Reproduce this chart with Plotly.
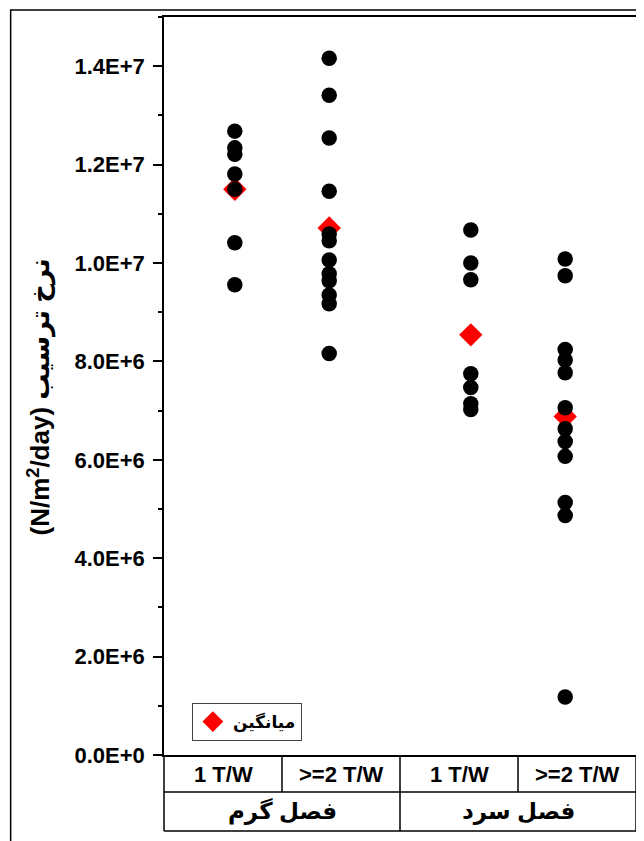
import plotly.graph_objects as go

# ---- data ----
groups = ["فصل گرم", "فصل سرد"]
subcats = ["1 T/W", ">=2 T/W"]

warm_1tw = [12.68e6, 12.34e6, 12.21e6, 11.81e6, 11.50e6, 10.41e6, 9.56e6]
warm_2tw = [14.16e6, 13.41e6, 12.54e6, 11.46e6, 10.59e6, 10.45e6, 10.06e6,
            9.78e6, 9.64e6, 9.35e6, 9.17e6, 8.16e6]
cold_1tw = [10.67e6, 10.00e6, 9.66e6, 7.75e6, 7.47e6, 7.14e6, 7.02e6]
cold_2tw = [10.08e6, 9.74e6, 8.24e6, 8.03e6, 7.77e6, 7.06e6, 6.63e6,
            6.37e6, 6.07e6, 5.13e6, 4.87e6, 1.18e6]
means = [11.50e6, 10.71e6, 8.54e6, 6.88e6]

ytick_vals = [0, 2e6, 4e6, 6e6, 8e6, 1e7, 1.2e7, 1.4e7]
ytick_text = ["0.0E+0", "2.0E+6", "4.0E+6", "6.0E+6", "8.0E+6", "1.0E+7", "1.2E+7", "1.4E+7"]

legend_label = "میانگین"
y_title = "(N/m<sup>2</sup>/day) نرخ ترسیب"

series = [warm_1tw, warm_2tw, cold_1tw, cold_2tw]

# x placement: group g spans [2g, 2g+2]; sub-columns placed around group centre
offsets = [0.6, 1.4]
xs, ys = [], []
mean_x = []
k = 0
for g in range(len(groups)):
    for s in range(len(subcats)):
        vals = series[k]
        xpos = 2 * g + offsets[s]
        xs += [xpos] * len(vals)
        ys += vals
        mean_x.append(xpos)
        k += 1

FONT = "Liberation Sans, Arial, DejaVu Sans, sans-serif"

fig = go.Figure()
fig.add_trace(go.Scatter(
    x=mean_x, y=means, mode="markers", name=legend_label,
    marker=dict(symbol="diamond", size=18, color="#ff0000", line=dict(width=0)),
    showlegend=True))
fig.add_trace(go.Scatter(
    x=xs, y=ys, mode="markers", name="data",
    marker=dict(symbol="circle", size=15.5, color="black", line=dict(width=0)),
    showlegend=False))

# page has an 8px body margin: figure occupies viewport pixels 8..644 / 8..841
OFF = 8
W, H = 644 - OFF, 841 - OFF
L, R, T, B = 164 - OFF, 6, 17 - OFF, 86
pw, ph = W - L - R, H - T - B

def py(pix):
    # viewport pixel y -> paper y
    return (H - B - (pix - OFF)) / ph

def px(pix):
    return (pix - OFF - L) / pw

shapes = []
line = dict(color="black", width=1.5)
for yy in [792, 831]:
    shapes.append(dict(type="line", xref="paper", yref="paper", x0=0, x1=1,
                       y0=py(yy), y1=py(yy), line=line))
for xx in [0, 1]:
    shapes.append(dict(type="line", xref="paper", yref="paper", x0=xx, x1=xx,
                       y0=py(831), y1=0, line=line))
for xx in [1, 3]:
    shapes.append(dict(type="line", xref="x", yref="paper", x0=xx, x1=xx,
                       y0=py(792), y1=0, line=line))
shapes.append(dict(type="line", xref="x", yref="paper", x0=2, x1=2,
                   y0=py(831), y1=0, line=line))
# outer frame
shapes.append(dict(type="rect", xref="paper", yref="paper",
                   x0=px(10), x1=px(700), y0=py(900), y1=py(10),
                   line=dict(color="black", width=1.5), fillcolor="rgba(0,0,0,0)"))

annotations = []
for g in range(len(groups)):
    for s in range(len(subcats)):
        annotations.append(dict(x=2 * g + 0.5 + s, y=py(774), xref="x", yref="paper",
                                text=subcats[s], showarrow=False,
                                font=dict(family=FONT, size=22, color="black", weight="bold"),
                                xanchor="center", yanchor="middle"))
    annotations.append(dict(x=2 * g + 1, y=py(812), xref="x", yref="paper",
                            text=groups[g], showarrow=False,
                            font=dict(family=FONT, size=23, color="black", weight="bold"),
                            xanchor="center", yanchor="middle"))
annotations.append(dict(x=px(39), y=py(397), xref="paper", yref="paper", text=y_title,
                        textangle=-90, showarrow=False,
                        font=dict(family=FONT, size=26, color="black", weight="bold"),
                        xanchor="center", yanchor="middle"))

fig.update_layout(
    width=W, height=H,
    margin=dict(l=L, r=R, t=T, b=B, pad=0),
    paper_bgcolor="white", plot_bgcolor="white",
    shapes=shapes, annotations=annotations,
    legend=dict(x=px(192), y=py(703), xanchor="left", yanchor="top",
                bordercolor="#444444", borderwidth=1, bgcolor="white",
                font=dict(family=FONT, size=17, color="black", weight="bold"),
                itemwidth=30, tracegroupgap=0),
    xaxis=dict(range=[0, 4], showgrid=False, zeroline=False, showticklabels=False,
               ticks="", showline=True, linecolor="black", linewidth=1.5, mirror=True),
    yaxis=dict(range=[0, 1.5e7], showgrid=False, zeroline=False,
               tickvals=ytick_vals, ticktext=ytick_text,
               ticks="outside", ticklen=9, tickwidth=1.5, tickcolor="black",
               minor=dict(dtick=1e6, ticks="outside", ticklen=4, tickwidth=1.5, tickcolor="black"),
               tickfont=dict(family=FONT, size=22, color="black", weight="bold"),
               ticklabelstandoff=4,
               showline=True, linecolor="black", linewidth=1.5, mirror=True),
)

fig.write_html("out.html")
